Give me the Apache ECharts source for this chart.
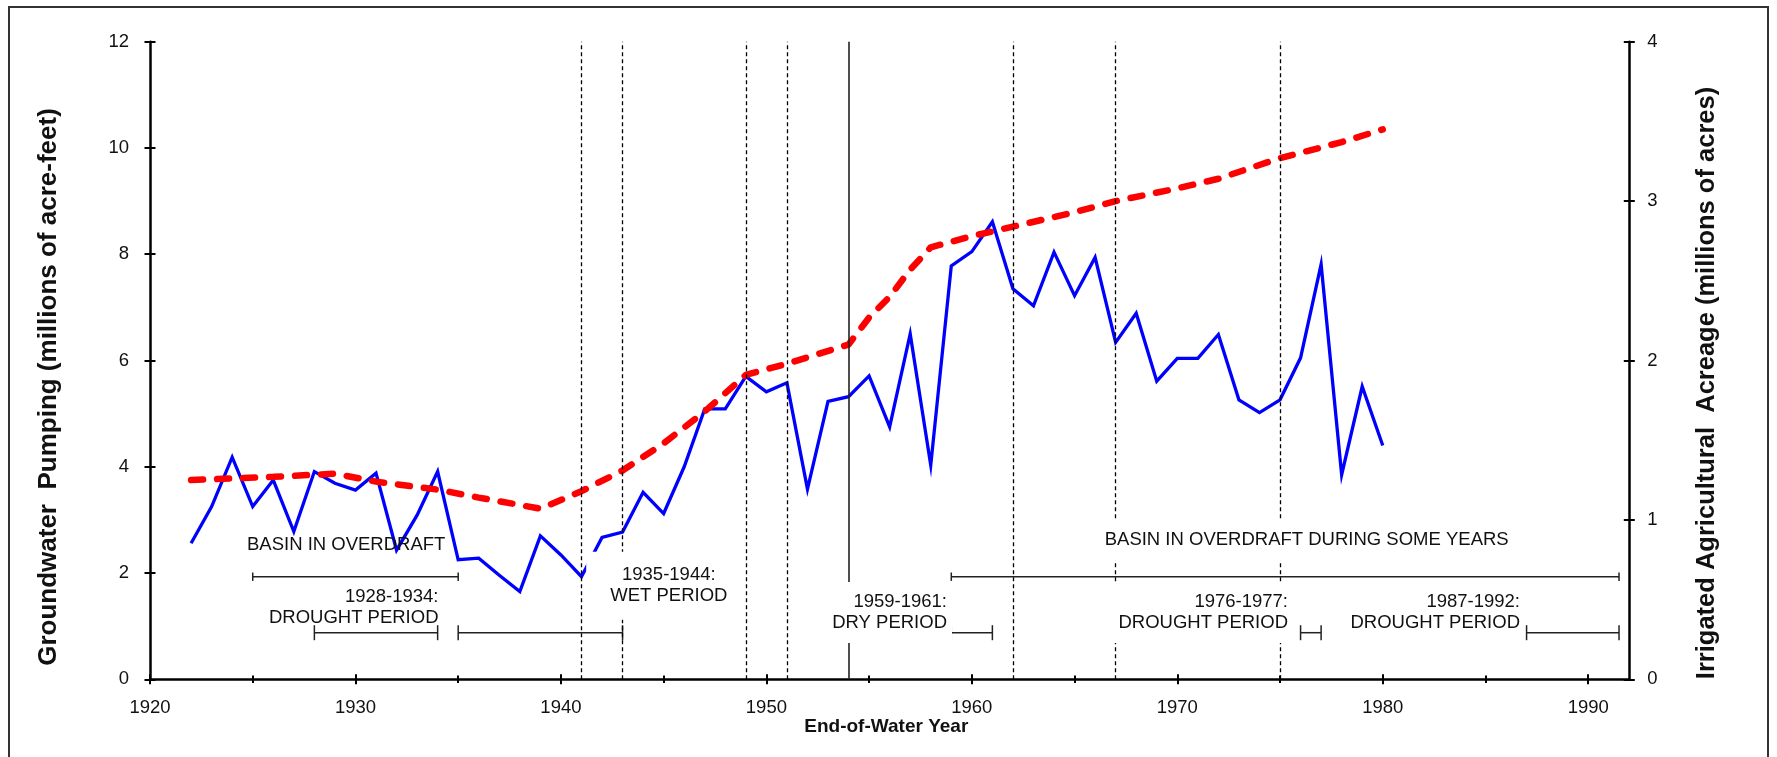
<!DOCTYPE html>
<html>
<head>
<meta charset="utf-8">
<style>
  html, body { margin: 0; padding: 0; background: #fff; }
  #chart { width: 1777px; height: 757px; }
</style>
<script src="https://cdn.jsdelivr.net/npm/echarts@6/dist/echarts.min.js"></script>
</head>
<body>
<div id="chart"></div>
<script>
// Annual groundwater pumping, millions of acre-feet
const pumpYears = [
  1922, 1923, 1924, 1925, 1926, 1927, 1928, 1929, 1930, 1931,
  1932, 1933, 1934, 1935, 1936, 1937, 1938, 1939, 1940, 1941,
  1942, 1943, 1944, 1945, 1946, 1947, 1948, 1949, 1950, 1951,
  1952, 1953, 1954, 1955, 1956, 1957, 1958, 1959, 1960, 1961,
  1962, 1963, 1964, 1965, 1966, 1967, 1968, 1969, 1970, 1971,
  1972, 1973, 1974, 1975, 1976, 1977, 1978, 1979, 1980
];
const pumping = [
  2.56, 3.25, 4.18, 3.25, 3.75, 2.78, 3.91, 3.69, 3.56, 3.88,
  2.43, 3.09, 3.91, 2.25, 2.28, 1.96, 1.65, 2.70, 2.34, 1.93,
  2.67, 2.77, 3.52, 3.12, 4.00, 5.09, 5.09, 5.70, 5.41, 5.58,
  3.58, 5.23, 5.32, 5.71, 4.75, 6.50, 4.03, 7.78, 8.05, 8.61,
  7.35, 7.03, 8.04, 7.22, 7.94, 6.34, 6.89, 5.61, 6.04, 6.04,
  6.49, 5.26, 5.02, 5.26, 6.05, 7.81, 3.85, 5.51, 4.40
];

// Irrigated agricultural acreage, millions of acres
const acreYears = [
  1922, 1924, 1926, 1929, 1931, 1934, 1936, 1939, 1941, 1943,
  1945, 1947, 1949, 1951, 1954, 1955, 1956, 1957, 1958, 1960,
  1962, 1965, 1967, 1970, 1972, 1975, 1978, 1980
];
const acreage = [
  1.25, 1.26, 1.27, 1.29, 1.24, 1.19, 1.14, 1.07, 1.18, 1.31,
  1.48, 1.68, 1.91, 1.98, 2.10, 2.27, 2.40, 2.57, 2.71, 2.78,
  2.84, 2.93, 3.00, 3.08, 3.14, 3.27, 3.37, 3.45
];

// Reference years marked with vertical lines
const eventYears = [1941, 1943, 1949, 1951, 1954, 1962, 1967, 1975];
const solidEventYears = [1954];

// Annotated periods: start year, end year, row (0 = basin overdraft, 1 = hydrologic period)
const periodStart = [1925, 1959, 1928, 1935, 1959, 1976, 1987];
const periodEnd   = [1935, 1991.5, 1934, 1943, 1961, 1977, 1991.5];
const periodRow   = [0, 0, 1, 1, 1, 1, 1];

// Axis tick labels
const yearLabels = [1920, 1930, 1940, 1950, 1960, 1970, 1980, 1990];
const yearMinorTicks = [1925, 1935, 1945, 1955, 1965, 1975, 1985];
const pumpTicks = [0, 2, 4, 6, 8, 10, 12];
const acreTicks = [0, 1, 2, 3, 4];

const FONT = '"Liberation Sans", Arial, sans-serif';
const INK = '#111';

// pixel rows for the period bars
const rows = [
  { y: 576.7, cap: 4.2 },
  { y: 632.7, cap: 7.5 }
];

const chart = echarts.init(document.getElementById('chart'), null, { renderer: 'canvas' });

const axisLineStyle = { color: '#000', width: 2.5 };
const tickStyle = { color: '#000', width: 2 };

function xAxisDef(ticks, len, inside, withLine, withLabels) {
  return {
    type: 'value', min: 1920, max: 1992, position: 'bottom',
    axisLine: { show: withLine, onZero: false, lineStyle: axisLineStyle },
    axisTick: { show: true, inside: inside, length: len, lineStyle: tickStyle, customValues: ticks },
    axisLabel: {
      show: withLabels, customValues: yearLabels, margin: 19,
      fontFamily: FONT, fontSize: 18.5, color: INK,
      formatter: function (v) { return String(Math.round(v)); }
    },
    splitLine: { show: false }
  };
}

function yAxisDef(pos, max, ticks, inside, withLine, withLabels) {
  return {
    type: 'value', min: 0, max: max, interval: ticks[1] - ticks[0], position: pos,
    axisLine: { show: withLine, onZero: false, lineStyle: axisLineStyle },
    axisTick: { show: true, inside: inside, length: 5.5, lineStyle: tickStyle, customValues: ticks },
    axisLabel: {
      show: withLabels, customValues: ticks, margin: pos === 'left' ? 21 : 18,
      fontFamily: FONT, fontSize: 18.5, color: INK
    },
    splitLine: { show: false }
  };
}

// Text note; boxed notes get a white fill that masks the lines behind them.
// The anchor is shifted by the padding so the text itself stays at (x, y).
function textBox(text, x, y, align, pad) {
  const style = {
    text: text, x: x, y: y, align: align, verticalAlign: 'middle',
    font: '18.5px ' + FONT, fill: INK, lineHeight: 21
  };
  if (pad) {
    style.backgroundColor = '#fff';
    style.padding = pad;
    if (align === 'right') style.x = x + pad[1];
    else if (align === 'left') style.x = x - pad[3];
    else style.x = x + (pad[1] - pad[3]) / 2;
    style.y = y + (pad[2] - pad[0]) / 2;
  }
  return { type: 'text', z: 100, silent: true, style: style };
}

const option = {
  animation: false,
  backgroundColor: '#fff',
  grid: { left: 150, top: 41.7, right: 147.7, bottom: 77.7, containLabel: false },
  xAxis: [
    xAxisDef(yearLabels, 5, false, true, true),
    xAxisDef(yearLabels, 5, true, false, false),
    xAxisDef(yearMinorTicks, 3.8, false, false, false),
    xAxisDef(yearMinorTicks, 3.8, true, false, false)
  ],
  yAxis: [
    yAxisDef('left', 12, pumpTicks, false, true, true),
    yAxisDef('right', 4, acreTicks, false, true, true),
    yAxisDef('left', 12, pumpTicks, true, false, false),
    yAxisDef('right', 4, acreTicks, true, false, false)
  ],
  series: [
    {
      name: 'events', type: 'line', data: [], z: 1,
      xAxisIndex: 0, yAxisIndex: 0,
      markLine: {
        silent: true, symbol: ['none', 'none'], label: { show: false },
        lineStyle: { color: '#000', width: 1.3, type: [4, 3] },
        data: eventYears.map(function (yr) {
          const solid = solidEventYears.indexOf(yr) >= 0;
          return solid
            ? { xAxis: yr, lineStyle: { type: 'solid', color: '#222', width: 1.6 } }
            : { xAxis: yr };
        })
      }
    },
    {
      name: 'periods', type: 'custom', z: 2,
      xAxisIndex: 0, yAxisIndex: 0,
      encode: { x: [0, 1], y: 2 },
      data: periodStart.map(function (s, i) { return [s, periodEnd[i], periodRow[i]]; }),
      renderItem: function (params, api) {
        const x0 = api.coord([api.value(0), 0])[0];
        const x1 = api.coord([api.value(1), 0])[0];
        const r = rows[api.value(2)];
        const st = { stroke: '#222', lineWidth: 1.5 };
        return {
          type: 'group',
          children: [
            { type: 'line', shape: { x1: x0, y1: r.y, x2: x1, y2: r.y }, style: st },
            { type: 'line', shape: { x1: x0, y1: r.y - r.cap, x2: x0, y2: r.y + r.cap }, style: st },
            { type: 'line', shape: { x1: x1, y1: r.y - r.cap, x2: x1, y2: r.y + r.cap }, style: st }
          ]
        };
      }
    },
    {
      name: 'Groundwater Pumping', type: 'line', z: 3,
      xAxisIndex: 0, yAxisIndex: 0,
      data: pumpYears.map(function (yr, i) { return [yr, pumping[i]]; }),
      symbol: 'none',
      lineStyle: { color: '#0000ff', width: 3.3, join: 'miter' }
    },
    {
      name: 'Irrigated Agricultural Acreage', type: 'line', z: 4,
      xAxisIndex: 0, yAxisIndex: 1,
      data: acreYears.map(function (yr, i) { return [yr, acreage[i]]; }),
      symbol: 'none',
      lineStyle: { color: '#ff0000', width: 6.5, type: [12, 14], cap: 'round' }
    }
  ],
  graphic: [
    {
      type: 'rect', z: 120, silent: true,
      shape: { x: 9, y: 7, width: 1759, height: 770 },
      style: { fill: 'none', stroke: '#333', lineWidth: 2 }
    },
    textBox('BASIN IN OVERDRAFT', 247, 544.5, 'left'),
    textBox('1928-1934:\nDROUGHT PERIOD', 438.5, 607.8, 'right'),
    textBox('1935-1944:\nWET PERIOD', 668.8, 586.7, 'center', [14, 10, 12, 24]),
    textBox('1959-1961:\nDRY PERIOD', 947, 612, 'right', [9, 5, 10, 16]),
    textBox('BASIN IN OVERDRAFT DURING SOME YEARS', 1306.7, 540.3, 'center', [10, 8, 10, 8]),
    textBox('1976-1977:\nDROUGHT PERIOD', 1288, 612, 'right', [9, 8, 10, 8]),
    textBox('1987-1992:\nDROUGHT PERIOD', 1520, 612, 'right'),
    {
      type: 'text', z: 100, silent: true,
      x: 48.7, y: 387, rotation: Math.PI / 2,
      style: {
        text: 'Groundwater  Pumping (millions of acre-feet)',
        font: 'bold 26px ' + FONT, fill: INK, align: 'center', verticalAlign: 'middle'
      }
    },
    {
      type: 'text', z: 100, silent: true,
      x: 1707, y: 383, rotation: Math.PI / 2,
      style: {
        text: 'Irrigated Agricultural  Acreage (millions of acres)',
        font: 'bold 25.5px ' + FONT, fill: INK, align: 'center', verticalAlign: 'middle'
      }
    },
    {
      type: 'text', z: 100, silent: true,
      x: 886.3, y: 726.5,
      style: {
        text: 'End-of-Water Year',
        font: 'bold 19px ' + FONT, fill: INK, align: 'center', verticalAlign: 'middle'
      }
    }
  ]
};

chart.setOption(option);
</script>
</body>
</html>
